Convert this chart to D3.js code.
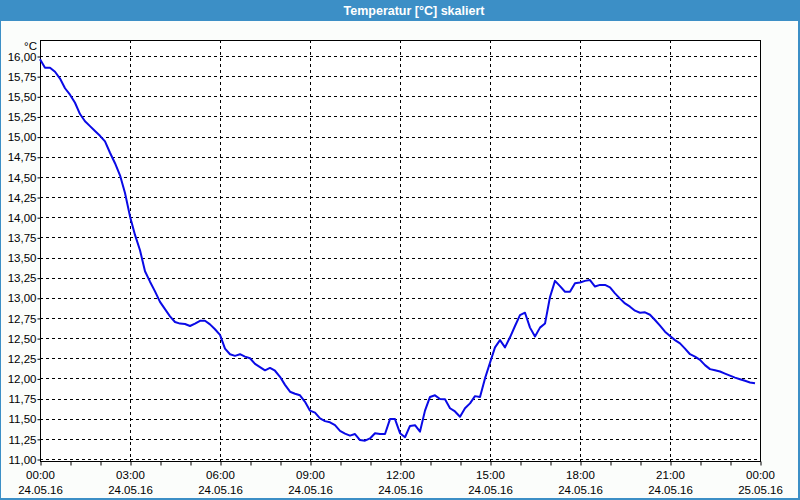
<!DOCTYPE html>
<html>
<head>
<meta charset="utf-8">
<script src="https://cdn.jsdelivr.net/npm/d3@7"></script>
<style>
  html, body { margin: 0; padding: 0; }
  body { width: 800px; height: 500px; overflow: hidden; background: #fbfdfb; }
  text { font-family: "Liberation Sans", Arial, sans-serif; }
</style>
</head>
<body>
<svg id="chart" width="800" height="500"></svg>
<script>
// ---- data ----
const title = "Temperatur [°C] skaliert";
const unit = "°C";
const startTime = "2016-05-24T00:00";
const intervalMinutes = 10;
const temperatures = [
  15.96, 15.855, 15.855, 15.805, 15.72, 15.60, 15.52, 15.42, 15.28, 15.19,
  15.13, 15.07, 15.01, 14.94, 14.80, 14.67, 14.52, 14.30, 14.01, 13.78,
  13.59, 13.33, 13.20, 13.08, 12.95, 12.86, 12.77, 12.70, 12.68, 12.675,
  12.65, 12.68, 12.715, 12.715, 12.67, 12.61, 12.54, 12.37, 12.30, 12.28,
  12.30, 12.27, 12.25, 12.18, 12.14, 12.10, 12.13, 12.095, 12.02, 11.92,
  11.835, 11.81, 11.79, 11.71, 11.60, 11.575, 11.505, 11.47, 11.455, 11.42,
  11.35, 11.315, 11.29, 11.31, 11.235, 11.227, 11.255, 11.32, 11.31, 11.31,
  11.495, 11.495, 11.32, 11.27, 11.41, 11.42, 11.34, 11.60, 11.77, 11.79,
  11.745, 11.74, 11.63, 11.59, 11.525, 11.63, 11.69, 11.78, 11.77, 12.00,
  12.195, 12.385, 12.475, 12.385, 12.51, 12.65, 12.785, 12.815, 12.63, 12.52,
  12.63, 12.68, 13.01, 13.21, 13.145, 13.075, 13.075, 13.18, 13.19, 13.21,
  13.22, 13.14, 13.16, 13.16, 13.13, 13.055, 12.99, 12.93, 12.89, 12.84,
  12.815, 12.82, 12.79, 12.725, 12.655, 12.58, 12.525, 12.475, 12.435, 12.37,
  12.30, 12.27, 12.23, 12.165, 12.115, 12.10, 12.085, 12.06, 12.035, 12.01,
  11.99, 11.97, 11.95, 11.94
];
const yTicks = [11.00, 11.25, 11.50, 11.75, 12.00, 12.25, 12.50, 12.75, 13.00,
                13.25, 13.50, 13.75, 14.00, 14.25, 14.50, 14.75, 15.00, 15.25,
                15.50, 15.75, 16.00];
const xTickHours = [0, 3, 6, 9, 12, 15, 18, 21, 24];

// ---- setup ----
const svg = d3.select("#chart");
const W = 800, H = 500;
const pLeft = 40, pRight = 760, pTop = 40, pBottom = 461;
const fs = "11.5px";

const parse = d3.timeParse("%Y-%m-%dT%H:%M");
const t0 = parse(startTime);
const t1 = d3.timeHour.offset(t0, 24);
const data = temperatures.map((v, i) => ({ t: d3.timeMinute.offset(t0, i * intervalMinutes), v }));

const x = d3.scaleTime().domain([t0, t1]).range([pLeft, pRight]);
const y = d3.scaleLinear().domain([11, 16]).range([459, 56]);

// title bar + border
svg.append("rect").attr("x", 0).attr("y", 0).attr("width", W).attr("height", H).attr("fill", "#3c8fc6");
svg.append("rect").attr("x", 1).attr("y", 21).attr("width", W - 3).attr("height", H - 23).attr("fill", "#fbfdfb");
svg.append("text").attr("x", 414).attr("y", 15).attr("text-anchor", "middle")
  .attr("fill", "#ffffff").attr("font-size", "12.5px").attr("font-weight", "bold").text(title);

// plot background
svg.append("rect").attr("x", pLeft).attr("y", pTop).attr("width", pRight - pLeft).attr("height", pBottom - pTop).attr("fill", "#ffffff");

// horizontal grid
svg.append("g").selectAll("line").data(yTicks).join("line")
  .attr("x1", pLeft).attr("x2", pRight)
  .attr("y1", d => Math.round(y(d)) + 0.5).attr("y2", d => Math.round(y(d)) + 0.5)
  .attr("stroke", "#000").attr("stroke-width", 1).attr("stroke-dasharray", "3,3");

// vertical grid
const xTicks = xTickHours.map(h => d3.timeHour.offset(t0, h));
svg.append("g").selectAll("line").data(xTicks.slice(1, -1)).join("line")
  .attr("x1", d => Math.round(x(d)) + 0.5).attr("x2", d => Math.round(x(d)) + 0.5)
  .attr("y1", pTop).attr("y2", pBottom)
  .attr("stroke", "#000").attr("stroke-width", 1).attr("stroke-dasharray", "3,3");

// frame
svg.append("rect").attr("x", pLeft + 0.5).attr("y", pTop + 0.5).attr("width", pRight - pLeft).attr("height", pBottom - pTop)
  .attr("fill", "none").attr("stroke", "#000").attr("stroke-width", 1);

// y axis labels
const fmt = d => d.toFixed(2).replace(".", ",");
const yAxis = d3.axisLeft(y).tickValues(yTicks).tickFormat(fmt).tickSize(3).tickPadding(1);
const gy = svg.append("g").attr("transform", `translate(${pLeft + 0.5},0.5)`).call(yAxis);
gy.select(".domain").remove();
gy.selectAll("text").attr("font-size", fs).attr("fill", "#000")
  .style("font-family", '"Liberation Sans", Arial, sans-serif');
svg.append("text").attr("x", 37).attr("y", 50).attr("text-anchor", "end")
  .attr("font-size", fs).attr("fill", "#000").text(unit);

// x axis minor ticks (hourly)
const hourly = d3.timeHour.range(t0, d3.timeMinute.offset(t1, 1));
const xAxis = d3.axisBottom(x).tickValues(hourly).tickSize(4).tickFormat("");
const gx = svg.append("g").attr("transform", `translate(0.5,${pBottom + 0.5})`).call(xAxis);
gx.select(".domain").remove();

// x axis labels (two lines)
const fTime = d3.timeFormat("%H:%M"), fDate = d3.timeFormat("%d.%m.%y");
const xl = svg.append("g").selectAll("g").data(xTicks).join("g")
  .attr("transform", d => `translate(${Math.round(x(d)) + 0.5},0)`);
xl.append("text").attr("y", 479).attr("text-anchor", "middle").attr("font-size", fs).text(d => fTime(d));
xl.append("text").attr("y", 494).attr("text-anchor", "middle").attr("font-size", fs).text(d => fDate(d));

// line
const line = d3.line().x(d => x(d.t)).y(d => y(d.v));
svg.append("path").datum(data).attr("d", line)
  .attr("fill", "none").attr("stroke", "#0a0ae6").attr("stroke-width", 2).attr("stroke-linejoin", "round");
</script>
</body>
</html>
